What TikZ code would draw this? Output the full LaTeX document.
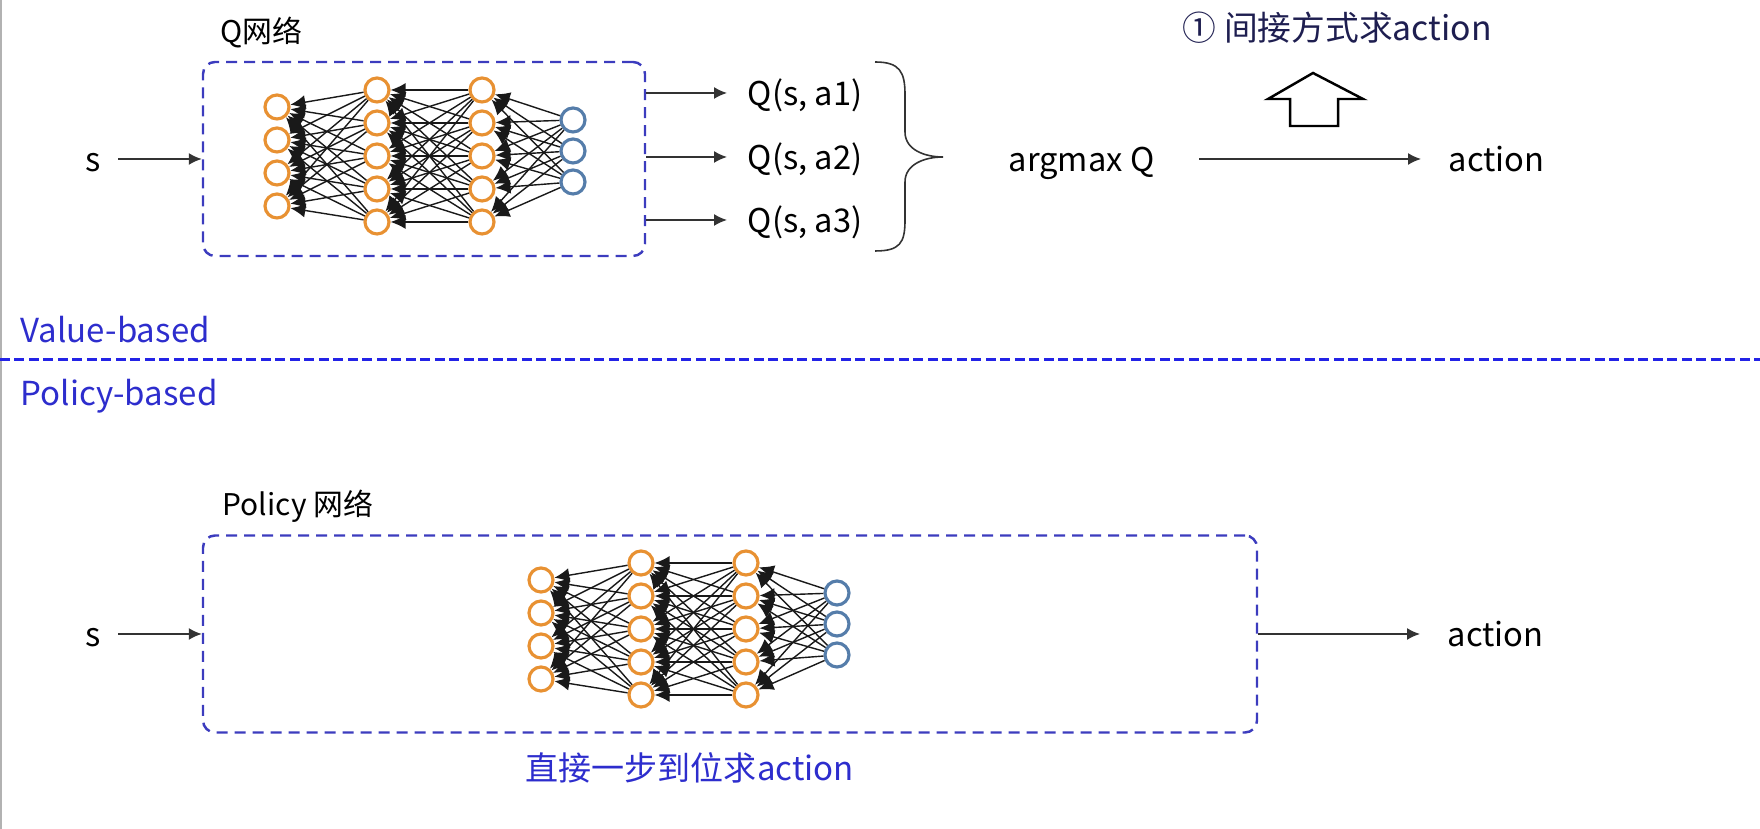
\documentclass[tikz,border=0pt]{standalone}
\usepackage{fontspec}
\setmainfont{Noto Sans CJK SC}
\usetikzlibrary{arrows.meta, positioning}

\definecolor{boxblue}{RGB}{60,60,190}
\definecolor{lineblue}{RGB}{35,35,230}
\definecolor{textblue}{RGB}{45,45,205}
\definecolor{navy}{RGB}{30,30,80}
\definecolor{unitorange}{RGB}{232,145,50}
\definecolor{unitblue}{RGB}{85,125,170}

\tikzset{
  unit/.style={circle, draw=unitorange, line width=0.9pt, fill=white, minimum size=2.4mm, inner sep=0pt},
  outunit/.style={unit, draw=unitblue},
  link/.style={-{Latex[length=1.5mm, width=1.4mm]}, line width=0.4pt, black!90},
  netbox/.style={draw=boxblue, line width=0.7pt, dash pattern=on 1.1mm off 0.7mm, rounded corners=1.2mm, inner sep=0pt},
  arr/.style={-{Latex[length=1.3mm, width=1.2mm]}, line width=0.45pt, black!80},
  lbl/.style={font=\fontsize{9.3}{11}\selectfont, inner sep=2pt, text height=0.72em, text depth=0pt},
  title/.style={font=\fontsize{8.5}{10}\selectfont, inner sep=2pt},
  tag/.style={font=\fontsize{9.4}{11}\selectfont, text=textblue, inner sep=2pt},
  note/.style={font=\fontsize{9.6}{11}\selectfont, text=navy, inner sep=2pt},
  sepline/.style={draw=lineblue, line width=0.85pt, dash pattern=on 1mm off 0.45mm},
  hollow/.style={draw=black, line width=0.7pt, fill=white},
  brace/.style={draw=black!80, line width=0.45pt}
}

\begin{document}
\begin{tikzpicture}[x=0.1mm, y=-0.1mm]
  \useasboundingbox (0,0) rectangle (1760,829);
  % window edge
  \draw[gray!60, line width=0.8pt] (1,0) -- (1,829);

  % the two network boxes
  \node[netbox, minimum width=44.2mm, minimum height=19.4mm] (qbox) at (424,159) {};
  \node[netbox, minimum width=105.4mm, minimum height=19.7mm] (pbox) at (730,634) {};
  \node[title, anchor=base west] (qtitle) at (213,43) {Q网络};
  \node[title, anchor=base west] (ptitle) at (215,516) {Policy 网络};

  % the same net drawn twice
  \foreach \net/\dx/\dy in {q/0/0, p/264/473} {
    \begin{scope}[shift={(\dx,\dy)}]
      \foreach \y [count=\i] in {107,140,173,206}
        \node[unit] (\net1-\i) at (277,\y) {};
      \foreach \y [count=\i] in {90,123,156,189,222} {
        \node[unit] (\net2-\i) at (377,\y) {};
        \node[unit] (\net3-\i) at (482,\y) {};
      }
      \foreach \y [count=\i] in {120,151,182}
        \node[outunit] (\net4-\i) at (573,\y) {};
    \end{scope}
    \foreach \i in {1,...,4} \foreach \j in {1,...,5}
      \draw[link] (\net2-\j) -- (\net1-\i);
    \foreach \i in {1,...,5} \foreach \j in {1,...,5}
      \draw[link] (\net3-\j) -- (\net2-\i);
    \foreach \i in {1,...,5} \foreach \j in {1,...,3}
      \draw[link] (\net4-\j) -- (\net3-\i);
  }

  % value-based part
  \node[lbl] (s1) at (93,159) {s};
  \draw[arr, shorten <=1mm] (s1) -- (s1 -| qbox.west);
  \foreach \k/\y in {1/93, 2/157, 3/220} {
    \node[lbl, anchor=west] (qa\k) at (740,\y) {Q(s, a\k)};
    \draw[arr, shorten >=1.3mm] (qa\k -| qbox.east) -- (qa\k);
  }
  \draw[brace] (875,62) .. controls (900,62) and (905,72) .. (905,95) -- (905,132)
    .. controls (905,150) and (925,157) .. (943,157)
    .. controls (925,157) and (905,164) .. (905,182) -- (905,220)
    .. controls (905,243) and (900,251) .. (875,251);
  \node[lbl, anchor=west] (argmax) at (1001,159) {argmax Q};
  \node[lbl, anchor=west] (act1) at (1441,159) {action};
  \draw[arr, shorten <=3.7mm, shorten >=2mm] (argmax) -- (act1);
  \draw[hollow] (1290,126) -- (1290,99) -- (1268,99) -- (1313,73) -- (1363,99)
    -- (1338,99) -- (1338,126) -- cycle;
  \node[note, anchor=base west] (indirect) at (1175,41) {① 间接方式求action};

  % split line
  \draw[sepline] (0,360) -- (1760,360);
  \node[tag, anchor=base west] (vb) at (13,343) {Value-based};
  \node[tag, anchor=base west] (pb) at (13,406) {Policy-based};

  % policy-based part
  \node[lbl] (s2) at (93,634) {s};
  \draw[arr, shorten <=1mm] (s2) -- (s2 -| pbox.west);
  \node[lbl, anchor=west] (act2) at (1440,634) {action};
  \draw[arr, shorten >=2mm] (pbox.east |- act2) -- (act2);
  \node[tag, anchor=base west] (direct) at (518,781) {直接一步到位求action};
\end{tikzpicture}
\end{document}
